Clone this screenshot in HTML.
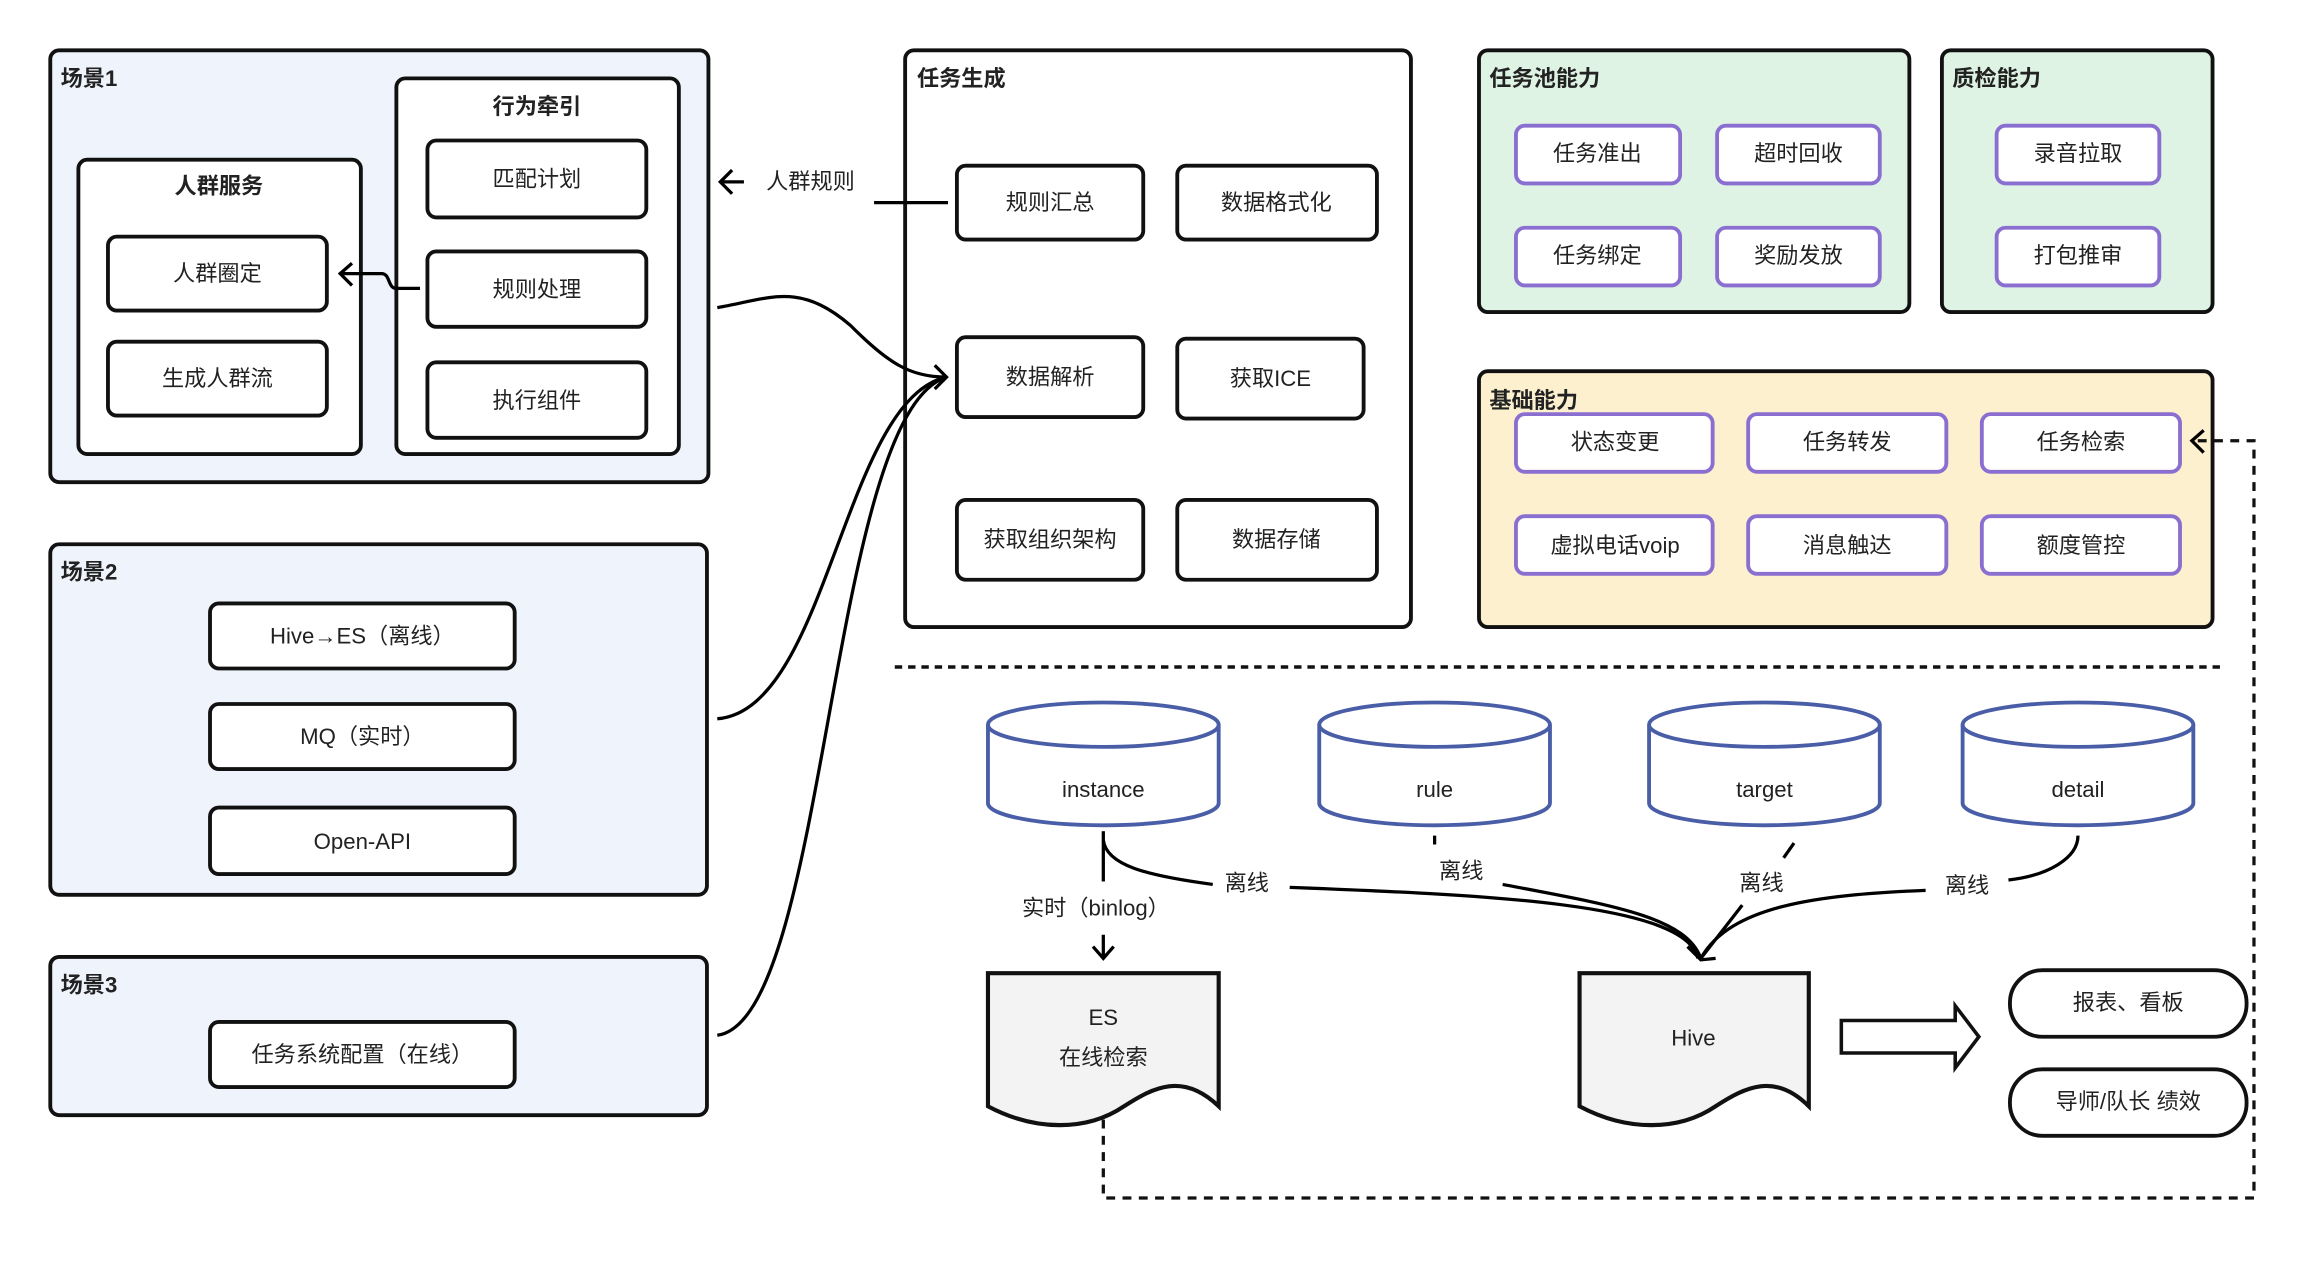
<!DOCTYPE html>
<html><head><meta charset="utf-8"><style>
html,body{margin:0;padding:0;background:#fff;}
svg{display:block}
text{font-family:"Liberation Sans","Noto Sans CJK SC",sans-serif;fill:#222;}
.t{font-size:15px;text-anchor:middle;dominant-baseline:middle;}
.b{font-size:15px;font-weight:bold;}
.bx{fill:#fff;stroke:#111;stroke-width:2.6;}
.pb{fill:#fff;stroke:#8a6fd0;stroke-width:2.6;}
.ln{fill:none;stroke:#000;stroke-width:2.2;}
</style></head><body>
<svg width="2322" height="1266" viewBox="0 0 1570 856" preserveAspectRatio="none" xmlns="http://www.w3.org/2000/svg">
<!-- 场景1 -->
<rect x="34" y="34" width="445" height="292" rx="6" fill="#eef3fc" stroke="#111" stroke-width="2.6"/>
<text x="41" y="58" class="b">场景1</text>
<rect x="53" y="108" width="191" height="199" rx="6" class="bx"/>
<text x="148" y="127" class="t" font-weight="bold">人群服务</text>
<rect x="73" y="160" width="148" height="50" rx="6" class="bx"/><text x="147" y="186" class="t">人群圈定</text>
<rect x="73" y="231" width="148" height="50" rx="6" class="bx"/><text x="147" y="257" class="t">生成人群流</text>
<rect x="268" y="53" width="191" height="254" rx="6" class="bx"/>
<text x="363" y="73" class="t" font-weight="bold">行为牵引</text>
<rect x="289" y="95" width="148" height="52" rx="6" class="bx"/><text x="363" y="122" class="t">匹配计划</text>
<rect x="289" y="170" width="148" height="51" rx="6" class="bx"/><text x="363" y="197" class="t">规则处理</text>
<rect x="289" y="245" width="148" height="51" rx="6" class="bx"/><text x="363" y="272" class="t">执行组件</text>
<path class="ln" d="M284 195 H268 C262 195 264 185 258 185 H230 M238 178 L230 185 L238 193"/>
<!-- 场景2 -->
<rect x="34" y="368" width="444" height="237" rx="6" fill="#eef3fc" stroke="#111" stroke-width="2.6"/>
<text x="41" y="392" class="b">场景2</text>
<rect x="142" y="408" width="206" height="44" rx="6" class="bx"/><text x="245" y="431" class="t">Hive→ES（离线）</text>
<rect x="142" y="476" width="206" height="44" rx="6" class="bx"/><text x="245" y="499" class="t">MQ（实时）</text>
<rect x="142" y="546" width="206" height="45" rx="6" class="bx"/><text x="245" y="570" class="t">Open-API</text>
<!-- 场景3 -->
<rect x="34" y="647" width="444" height="107" rx="6" fill="#eef3fc" stroke="#111" stroke-width="2.6"/>
<text x="41" y="671" class="b">场景3</text>
<rect x="142" y="691" width="206" height="44" rx="6" class="bx"/><text x="245" y="714" class="t">任务系统配置（在线）</text>
<!-- 任务生成 -->
<rect x="612" y="34" width="342" height="390" rx="6" class="bx"/>
<text x="620" y="58" class="b">任务生成</text>
<rect x="647" y="112" width="126" height="50" rx="6" class="bx"/><text x="710" y="138" class="t">规则汇总</text>
<rect x="796" y="112" width="135" height="50" rx="6" class="bx"/><text x="863" y="138" class="t">数据格式化</text>
<rect x="647" y="228" width="126" height="54" rx="6" class="bx"/><text x="710" y="256" class="t">数据解析</text>
<rect x="796" y="229" width="126" height="54" rx="6" class="bx"/><text x="859" y="257" class="t">获取ICE</text>
<rect x="647" y="338" width="126" height="54" rx="6" class="bx"/><text x="710" y="366" class="t">获取组织架构</text>
<rect x="796" y="338" width="135" height="54" rx="6" class="bx"/><text x="863" y="366" class="t">数据存储</text>
<path class="ln" d="M591 137 H641"/>
<path class="ln" d="M487 123 H503 M495 115 L487 123 L495 131"/>
<text x="548" y="124" class="t">人群规则</text>
<path class="ln" d="M485 208 C520 202 540 190 575 220 C600 245 615 255 640 255"/>
<path class="ln" d="M485 486 C560 480 570 270 640 255"/>
<path class="ln" d="M485 700 C560 690 560 280 640 255"/>
<path class="ln" d="M632 247 L640 255 L632 263"/>
<!-- 任务池能力 -->
<rect x="1000" y="34" width="291" height="177" rx="6" fill="#dff3e4" stroke="#111" stroke-width="2.6"/>
<text x="1007" y="58" class="b">任务池能力</text>
<rect x="1025" y="85" width="111" height="39" rx="6" class="pb"/><text x="1080" y="105" class="t">任务准出</text>
<rect x="1161" y="85" width="110" height="39" rx="6" class="pb"/><text x="1216" y="105" class="t">超时回收</text>
<rect x="1025" y="154" width="111" height="39" rx="6" class="pb"/><text x="1080" y="174" class="t">任务绑定</text>
<rect x="1161" y="154" width="110" height="39" rx="6" class="pb"/><text x="1216" y="174" class="t">奖励发放</text>
<!-- 质检能力 -->
<rect x="1313" y="34" width="183" height="177" rx="6" fill="#dff3e4" stroke="#111" stroke-width="2.6"/>
<text x="1320" y="58" class="b">质检能力</text>
<rect x="1350" y="85" width="110" height="39" rx="6" class="pb"/><text x="1405" y="105" class="t">录音拉取</text>
<rect x="1350" y="154" width="110" height="39" rx="6" class="pb"/><text x="1405" y="174" class="t">打包推审</text>
<!-- 基础能力 -->
<rect x="1000" y="251" width="496" height="173" rx="6" fill="#fdf0cf" stroke="#111" stroke-width="2.6"/>
<text x="1007" y="276" class="b">基础能力</text>
<rect x="1025" y="280" width="133" height="39" rx="6" class="pb"/><text x="1092" y="300" class="t">状态变更</text>
<rect x="1182" y="280" width="134" height="39" rx="6" class="pb"/><text x="1249" y="300" class="t">任务转发</text>
<rect x="1340" y="280" width="134" height="39" rx="6" class="pb"/><text x="1407" y="300" class="t">任务检索</text>
<rect x="1025" y="349" width="133" height="39" rx="6" class="pb"/><text x="1092" y="370" class="t">虚拟电话voip</text>
<rect x="1182" y="349" width="134" height="39" rx="6" class="pb"/><text x="1249" y="370" class="t">消息触达</text>
<rect x="1340" y="349" width="134" height="39" rx="6" class="pb"/><text x="1407" y="370" class="t">额度管控</text>
<!-- dashed -->
<path d="M605 451 H1505" stroke="#111" stroke-width="2.4" stroke-dasharray="5 4" fill="none"/>
<path d="M746 757 V810 H1524 V298 H1483" stroke="#111" stroke-width="2.2" stroke-dasharray="6 5" fill="none"/>
<path class="ln" d="M1490 291 L1482 298 L1490 306"/>
<!-- cylinders -->
<g fill="#fff" stroke="#4a5ea8" stroke-width="2.6">
<path d="M668 490 V543 A78 15 0 0 0 824 543 V490"/><ellipse cx="746" cy="490" rx="78" ry="15"/>
<path d="M892 490 V543 A78 15 0 0 0 1048 543 V490"/><ellipse cx="970" cy="490" rx="78" ry="15"/>
<path d="M1115 490 V543 A78 15 0 0 0 1271 543 V490"/><ellipse cx="1193" cy="490" rx="78" ry="15"/>
<path d="M1327 490 V543 A78 15 0 0 0 1483 543 V490"/><ellipse cx="1405" cy="490" rx="78" ry="15"/>
</g>
<text x="746" y="535" class="t" font-size="18">instance</text>
<text x="970" y="535" class="t" font-size="18">rule</text>
<text x="1193" y="535" class="t" font-size="18">target</text>
<text x="1405" y="535" class="t" font-size="18">detail</text>
<!-- connectors -->
<path class="ln" d="M746 562 V596"/>
<text x="741" y="615" class="t">实时（binlog）</text>
<path class="ln" d="M746 632 V648 M739 640 L746 648 L753 640"/>
<path class="ln" d="M746 568 C748 585 775 592 820 598"/>
<path class="ln" d="M872 600 C1000 605 1140 610 1148 648"/>
<path class="ln" d="M970 565 V571"/>
<path class="ln" d="M1016 598 C1090 612 1140 620 1150 648"/>
<path class="ln" d="M1213 570 L1206 580"/>
<path class="ln" d="M1302 602 C1230 605 1170 612 1150 648"/>
<path class="ln" d="M1405 565 C1405 580 1385 592 1358 595"/>
<path class="ln" d="M1178 612 L1150 648 M1141 640 L1150 649 L1160 648"/>
<text x="843" y="598" class="t">离线</text>
<text x="988" y="590" class="t">离线</text>
<text x="1191" y="598" class="t">离线</text>
<text x="1330" y="600" class="t">离线</text>
<!-- ES / Hive -->
<path d="M668 658 H824 V748 C800 725 780 735 760 748 C735 765 700 765 668 748 Z" fill="#f3f3f3" stroke="#111" stroke-width="2.8"/>
<text x="746" y="689" class="t" font-size="17">ES</text>
<text x="746" y="716" class="t" font-size="17">在线检索</text>
<path d="M1068 658 H1223 V748 C1200 725 1180 735 1160 748 C1135 765 1100 765 1068 748 Z" fill="#f3f3f3" stroke="#111" stroke-width="2.8"/>
<text x="1145" y="703" class="t" font-size="17">Hive</text>
<path d="M1245 690 H1322 V680 L1338 701 L1322 722 V712 H1245 Z" fill="#fff" stroke="#111" stroke-width="2.4"/>
<rect x="1359" y="656" width="160" height="45" rx="22" class="bx"/><text x="1439" y="679" class="t" font-size="17">报表、看板</text>
<rect x="1359" y="723" width="160" height="45" rx="22" class="bx"/><text x="1439" y="746" class="t" font-size="17">导师/队长 绩效</text>
</svg>
</body></html>
